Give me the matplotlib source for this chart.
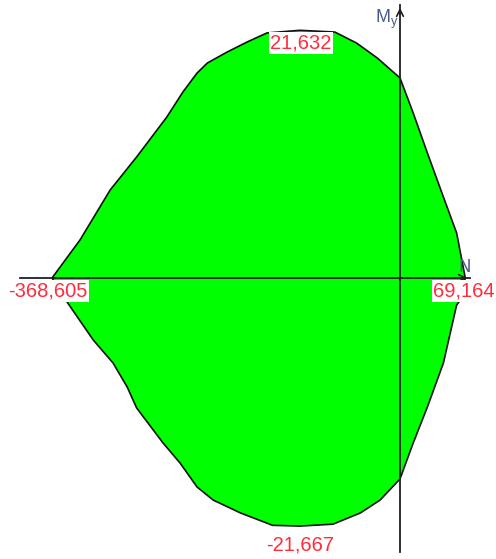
import matplotlib
matplotlib.use("Agg")
import matplotlib.pyplot as plt
from matplotlib.patches import Polygon

# ---- data: interaction diagram outline (N, My) ----
N_vals = [-368.605, -339, -307, -279, -247, -230, -215, -204, -183, -162, -141,
          -106, -69, -46, -24, 0, 14, 29, 46, 60, 69.164,
          64, 60, 46, 29, 14, 0, -21, -42, -71, -106, -135, -169, -198, -215,
          -233, -251, -279, -289, -304, -325, -352]
My_vals = [0, 3.32, 7.69, 10.57, 14.06, 16.24, 17.90, 18.78, 19.74, 20.61, 21.40,
           21.632, 21.48, 20.52, 19.21, 17.47, 14.41, 10.92, 7.07, 3.93, 0,
           -1.92, -2.36, -7.42, -11.27, -14.41, -17.55, -19.39, -20.52, -21.5, -21.667,
           -21.6, -20.52, -19.39, -18.25, -16.16, -14.41, -11.35, -9.52, -7.42, -5.41, -2.18]
extreme_labels = ["-368,605", "69,164", "21,632", "-21,667"]

W, H = 496, 559
fig = plt.figure(figsize=(W / 100, H / 100), dpi=100)
ax = fig.add_axes([0, 0, 1, 1])
ax.set_axis_off()

# pixel mapping (layout)
ox, oy = 400, 278
sx, sy = 0.944, 11.45
ax.set_xlim((0 - ox) / sx, (W - ox) / sx)
ax.set_ylim((oy - H) / sy, (oy - 0) / sy)

def px(x, y):
    return ((x - ox) / sx, (oy - y) / sy)

poly = Polygon(list(zip(N_vals, My_vals)), closed=True, facecolor="#00ff00",
               edgecolor="#111111", lw=1.2, joinstyle="round", zorder=1)
ax.add_patch(poly)

# axes lines
x0, _ = px(20, 0); x1, _ = px(470, 0)
_, y0 = px(0, 552); _, y1 = px(0, 5)
ax.plot([x0, x1], [0, 0], color="#202020", lw=1.3, zorder=2)
ax.plot([0, 0], [y0, y1], color="#202020", lw=1.3, zorder=2)
# arrowheads
ax.annotate("", xy=(0, y1), xytext=(0, y1 - 1.0),
            arrowprops=dict(arrowstyle="->", color="#202020", lw=1.2,
                            mutation_scale=12), zorder=3)
ax.annotate("", xy=(x1, 0), xytext=(x1 - 10, 0),
            arrowprops=dict(arrowstyle="->", color="#202020", lw=1.2,
                            mutation_scale=12), zorder=3)

axcol = "#4a5a90"
ax.text(*px(398, 19), r"$\mathregular{M_y}$", color=axcol, fontsize=13,
        ha="right", va="center", family="Liberation Sans", zorder=4)
ax.text(*px(465, 267), "N", color=axcol, fontsize=12, ha="center",
        va="center", family="Liberation Sans Narrow", zorder=4)

red = "#ff2d3c"
box = dict(facecolor="white", edgecolor="none", pad=1.0)
fs = 14.5
ax.text(*px(8, 291), extreme_labels[0], color=red, fontsize=fs, ha="left",
        va="center", family="Liberation Sans", bbox=box, zorder=5)
ax.text(*px(433, 291), extreme_labels[1], color=red, fontsize=fs, ha="left",
        va="center", family="Liberation Sans", bbox=box, zorder=5)
ax.text(*px(301, 43), extreme_labels[2], color=red, fontsize=fs, ha="center",
        va="center", family="Liberation Sans", bbox=box, zorder=5)
ax.text(*px(300, 545), extreme_labels[3], color=red, fontsize=fs, ha="center",
        va="center", family="Liberation Sans", bbox=box, zorder=5)

fig.savefig("out.png", dpi=100, facecolor="white")
